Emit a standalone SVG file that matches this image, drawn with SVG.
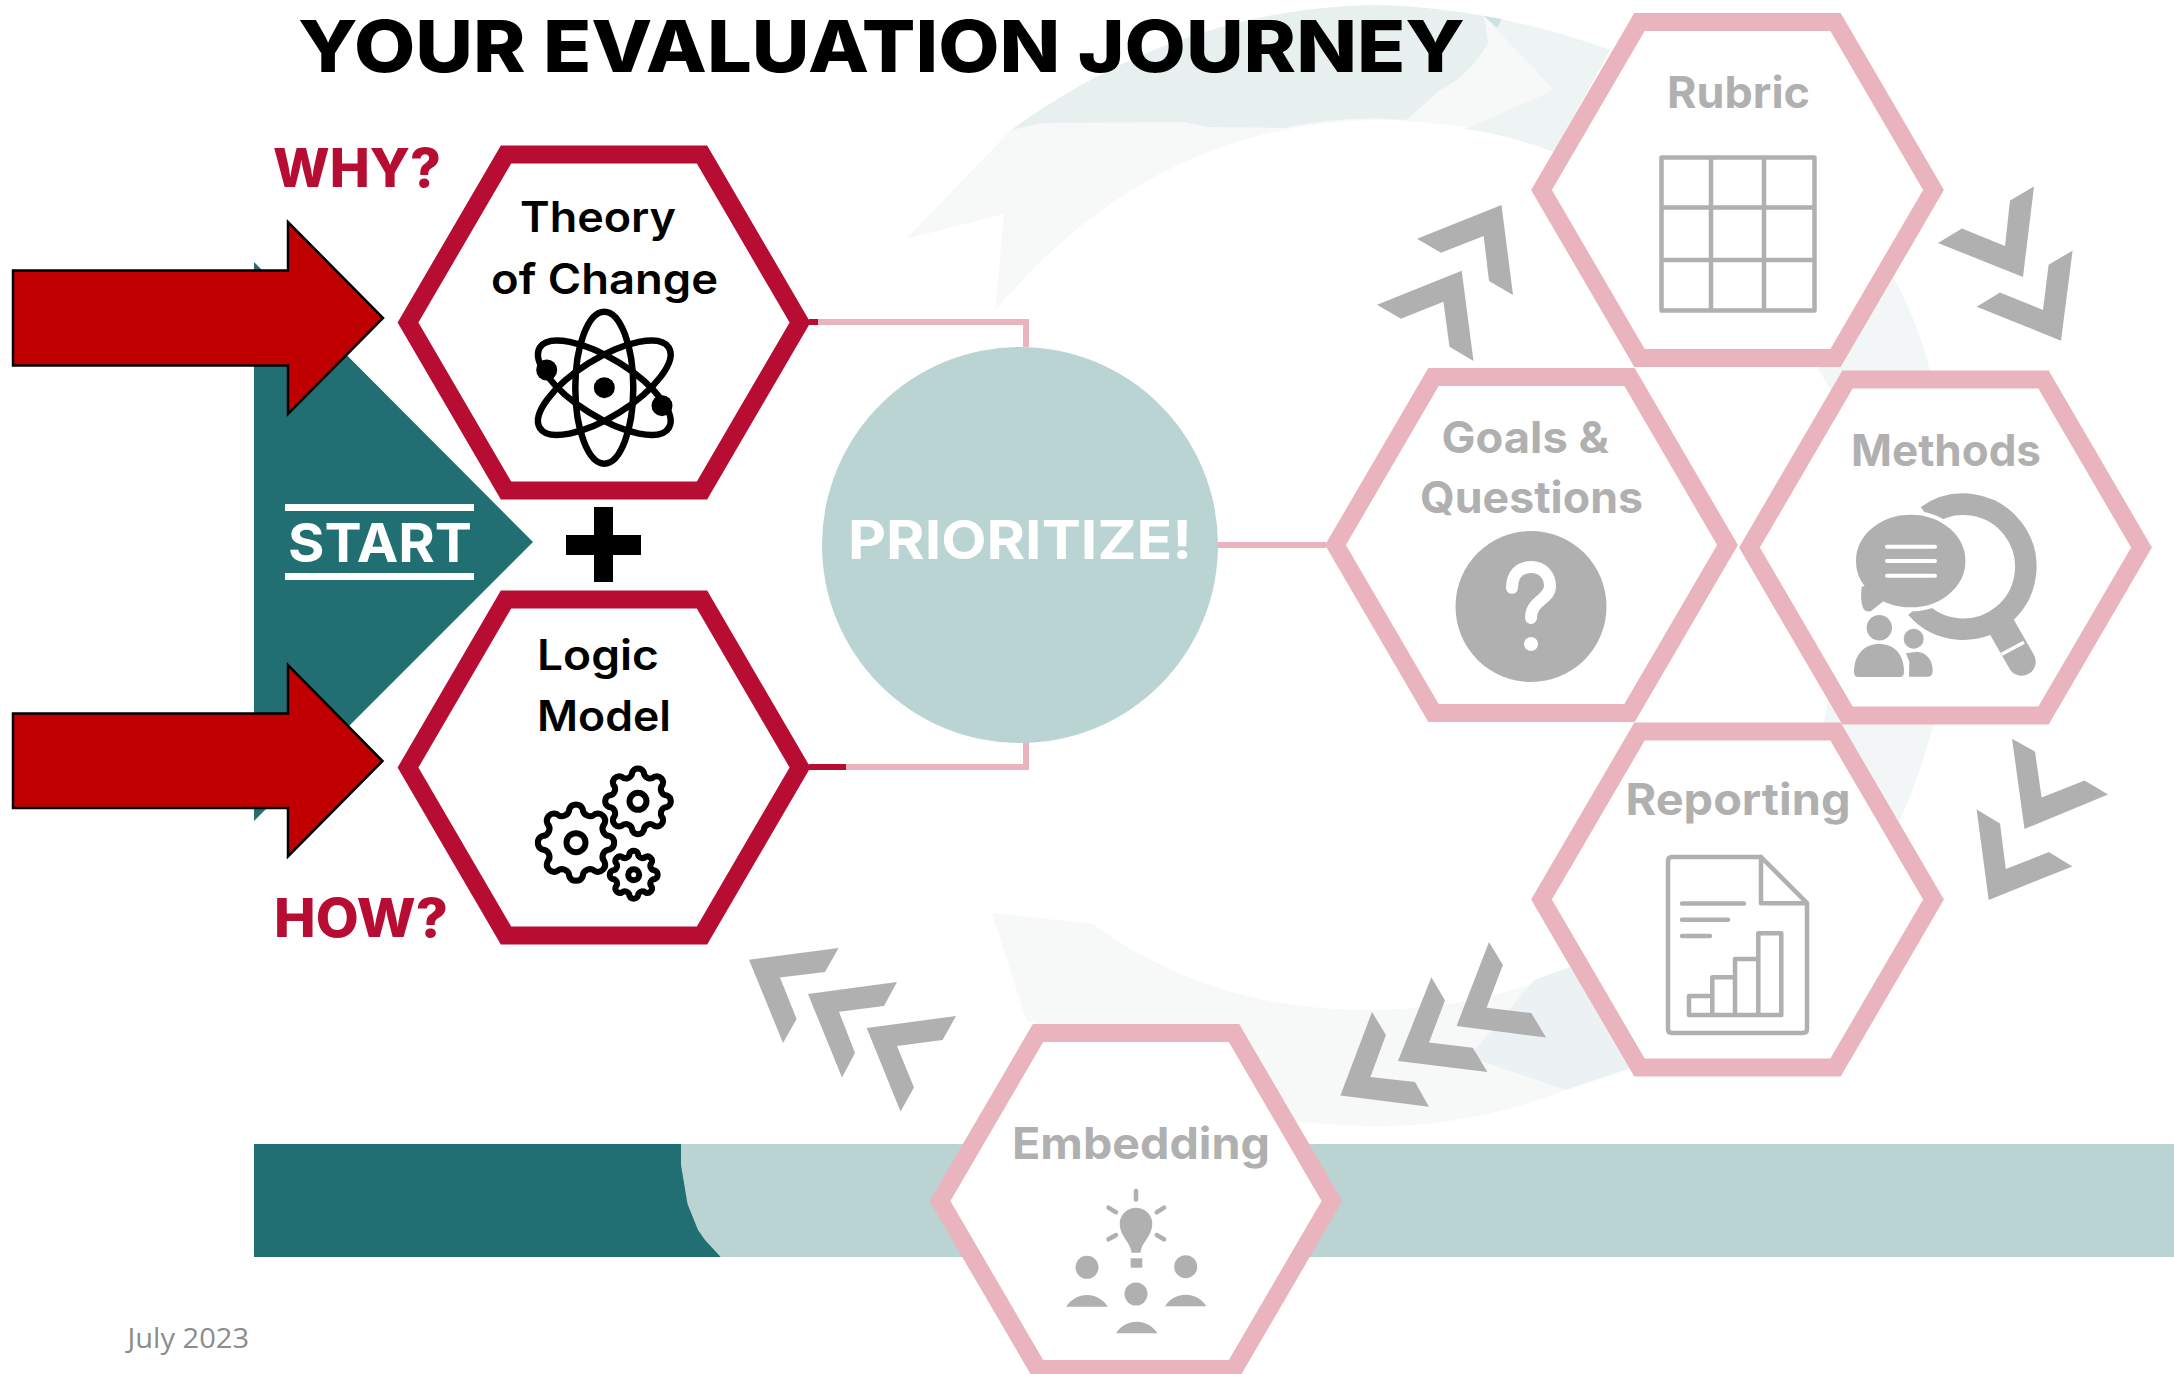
<svg xmlns="http://www.w3.org/2000/svg" xmlns:xlink="http://www.w3.org/1999/xlink" width="2174" height="1374" viewBox="0 0 2174 1374">
<style>
text{font-family:"Inter","Liberation Sans",sans-serif}
.hr{fill:#fff;stroke:#B80D33;stroke-width:18}
.hp{fill:#fff;stroke:#EAB4BE;stroke-width:18}
.tb{font-size:42px;font-weight:600;fill:#000}
.tg{font-size:44px;font-weight:700;fill:#B0B0B0}
.q{font-size:53px;font-weight:800;fill:#B80D33}
.chev{fill:#B0B0B0}
.ic{fill:#B0B0B0}
.il{fill:none;stroke:#B0B0B0;stroke-width:4.5;stroke-linecap:round;stroke-linejoin:round}
.wl{fill:none;stroke:#fff;stroke-linecap:round}
.gear{fill:#fff;stroke:#000;stroke-width:6;stroke-linejoin:round}
.conn{fill:none;stroke:#EAB4BE;stroke-width:6}
.bigarrow{fill:#C00000;stroke:#000;stroke-width:2.5}
</style>
<defs>
<polygon id="hex" points="-196,0 -98,-168 98,-168 196,0 98,168 -98,168"/>
<path id="g" vector-effect="non-scaling-stroke" d="M.785-.156A.17.17 0 0 1 .785.156A.17.17 0 0 0 .665.444A.17.17 0 0 1 .444.665A.17.17 0 0 0 .156.785A.17.17 0 0 1-.156.785A.17.17 0 0 0-.444.665A.17.17 0 0 1-.665.444A.17.17 0 0 0-.785.156A.17.17 0 0 1-.785-.156A.17.17 0 0 0-.665-.444A.17.17 0 0 1-.444-.665A.17.17 0 0 0-.156-.785A.17.17 0 0 1 .156-.785A.17.17 0 0 0 .444-.665A.17.17 0 0 1 .665-.444A.17.17 0 0 0 .785-.156Z"/>
</defs>
<rect width="2174" height="1374" fill="#fff"/>

<g id="background-swooshes">
<path fill="#F7F9F8" d="M906,239L1011,130Q1180,10 1375,5L1484,16L1610,50L1554,152Q1470,120 1375,120Q1150,125 995,311L1004,214Z"/>
<path fill="#E7F0EF" d="M1011,130Q1180,8 1375,5Q1430,6 1484,16L1488,43Q1470,75 1440,90L1406,120Q1345,115 1284,128L1207,127L1184,122L1044,123Z"/>
<path fill="#EEF4F4" d="M1484,16Q1550,28 1610,50L1554,152Q1510,135 1465,129L1554,90Z"/>
<path fill="#CFE2E2" d="M1484,16L1502,19L1497,28Z"/>
<path fill="#F3F6F7" d="M1880,255L1894,278Q1945,370 1955,540Q1955,700 1899,822L1824,722L1860,540L1838,403L1818,368L1850,320Z"/>
<path fill="#F7F9F8" d="M992,913L1093,924Q1210,1010 1367,1010Q1480,1010 1574,967L1631,1068L1566,1090Q1470,1128 1367,1126Q1330,1125 1290,1121L1026,1020Z"/>
<path fill="#ECF2F4" d="M1534,980L1570,967L1631,1068L1566,1090L1469,1057Z"/>
</g>

<g id="bar">
<rect x="681" y="1144" width="1493" height="113" fill="#BAD4D4"/>
<path fill="#216F72" d="M254,1144H681V1165L687.500,1204L698,1230L705,1240L720.700,1257H254Z"/>
</g>

<g id="start">
<polygon fill="#216F72" points="254,262 533,542 254,821"/>
<rect x="285" y="504" width="189" height="7" fill="#fff"/>
<rect x="285" y="573" width="189" height="7" fill="#fff"/>
<text x="288" y="561.500" font-size="53" font-weight="700" fill="#fff" textLength="184" lengthAdjust="spacingAndGlyphs">START</text>
</g>

<g id="plus"><path fill="#000" d="M594,507H613V535H641V555H613V582H594V555H566V535H594Z"/></g>

<g id="connectors">
<path class="conn" d="M810,322H1026V347"/>
<path class="conn" d="M846,767H1026V742"/>
<path class="conn" d="M1217,545H1326"/>
<path fill="none" stroke="#B80D33" stroke-width="6" d="M809,322H818M809,767H846"/>
<polygon class="bigarrow" points="13,270.500 288,270.500 288,222 383,318 288,414 288,365.500 13,365.500"/>
<polygon class="bigarrow" points="13,713.500 288,713.500 288,665 382.500,761 288,856.500 288,808 13,808"/>
<polygon class="chev" points="1501.500,205 1513,295 1489,281 1483.700,236 1441,252.700 1417,238.700"/>
<polygon class="chev" points="1461.700,270.700 1473.500,361 1449.500,346.700 1443.400,301.700 1401,318.700 1377,304.700"/>
<polygon class="chev" points="2034,186.400 2023,277 1938,243 1962,228.400 2005,245.900 2010,200.600"/>
<polygon class="chev" points="2072.600,250.600 2061,340.700 1976.700,306.700 2000,292.600 2043,310 2048.600,264.700"/>
<polygon class="chev" points="2012,738.700 2035,751.600 2041.600,797.600 2084.600,780.400 2108,794.600 2024.500,829"/>
<polygon class="chev" points="1976.600,809.600 2000,823.400 2005.800,869 2048.900,852 2072.400,866.400 1988.700,900"/>
<polygon class="chev" points="1489,942 1502.900,965 1486.600,1007.800 1531.300,1013 1546,1037.500 1456.600,1025.900"/>
<polygon class="chev" points="1431.400,977.300 1445,1000.500 1429,1042.600 1472.800,1047.800 1487.400,1071.900 1398,1061"/>
<polygon class="chev" points="1372,1012 1385.900,1035 1370.400,1077 1415,1082 1429,1106.700 1340.400,1095.500"/>
<polygon class="chev" points="838.600,947.900 825,972 780,977.400 796.600,1019 783,1042.900 749,959.800"/>
<polygon class="chev" points="897,982 884,1006 839,1011.700 855,1053 842,1077.600 808,994"/>
<polygon class="chev" points="956,1016 942.600,1040 897,1046 914,1087.500 900.500,1111.400 866.700,1028"/>
</g>

<g id="title"><text x="298" y="71.500" font-size="72" font-weight="800" fill="#000" textLength="1167" lengthAdjust="spacingAndGlyphs">YOUR EVALUATION JOURNEY</text></g>
<g id="why"><text class="q" x="273" y="186.500" textLength="168" lengthAdjust="spacingAndGlyphs">WHY?</text></g>
<g id="how"><text class="q" x="274" y="936.500" textLength="174" lengthAdjust="spacingAndGlyphs">HOW?</text></g>
<g id="date"><text x="127.500" y="1347.500" font-size="28" fill="#8C8C8C" style="font-family:'Open Sans','Liberation Sans',sans-serif" textLength="121.500" lengthAdjust="spacingAndGlyphs">July 2023</text></g>

<g id="prioritize">
<circle cx="1020" cy="545" r="198" fill="#BAD4D4"/>
<text x="848" y="559" font-size="53" font-weight="700" fill="#fff" textLength="344" lengthAdjust="spacingAndGlyphs">PRIORITIZE!</text>
</g>

<g id="theory-of-change">
<use href="#hex" class="hr" transform="translate(604,322.500)"/>
<text class="tb" x="520" y="232" textLength="156" lengthAdjust="spacingAndGlyphs">Theory</text>
<text class="tb" x="491" y="294" textLength="227" lengthAdjust="spacingAndGlyphs">of Change</text>
<g fill="none" stroke="#000" stroke-width="6.500">
<ellipse cx="604.300" cy="387.700" rx="29" ry="76"/>
<ellipse cx="604.300" cy="387.700" rx="29" ry="76" transform="rotate(58 604.300 387.700)"/>
<ellipse cx="604.300" cy="387.700" rx="29" ry="76" transform="rotate(-58 604.300 387.700)"/>
</g>
<circle cx="604.300" cy="387.700" r="10.500"/>
<circle cx="546.700" cy="370" r="10.500"/>
<circle cx="662" cy="405.700" r="10.500"/>
</g>

<g id="logic-model">
<use href="#hex" class="hr" transform="translate(604,767.500)"/>
<text class="tb" x="537" y="670" textLength="122" lengthAdjust="spacingAndGlyphs">Logic</text>
<text class="tb" x="537" y="731" textLength="134" lengthAdjust="spacingAndGlyphs">Model</text>
<use href="#g" class="gear" transform="translate(633.700,874.700) scale(27)"/>
<use href="#g" class="gear" transform="translate(638,801.300) scale(37)"/>
<use href="#g" class="gear" transform="translate(576,842.700) scale(43)"/>
<g fill="none" stroke="#000" stroke-width="6"><circle cx="576" cy="842.700" r="9.500"/><circle cx="638" cy="801.300" r="8.500"/><circle cx="633.700" cy="874.700" r="5.500"/></g>
</g>

<g id="rubric">
<use href="#hex" class="hp" transform="translate(1737.500,190)"/>
<text class="tg" x="1667" y="107.500" textLength="143" lengthAdjust="spacingAndGlyphs">Rubric</text>
<path class="il" stroke-linecap="butt" d="M1661.500,157.500H1814.500V310.500H1661.500ZM1711,157.500V310.500M1764,157.500V310.500M1661.500,207.500H1814.500M1661.500,260H1814.500"/>
</g>

<g id="goals-questions">
<use href="#hex" class="hp" transform="translate(1531.500,545)"/>
<text class="tg" x="1441.500" y="453" textLength="167.500" lengthAdjust="spacingAndGlyphs">Goals &amp;</text>
<text class="tg" x="1420" y="513" textLength="223" lengthAdjust="spacingAndGlyphs">Questions</text>
<circle class="ic" cx="1531" cy="606.500" r="75.500"/>
<path class="wl" stroke-width="12" d="M1512,588C1512,574 1520,567 1531,567C1544,567 1550,577 1550,586C1550,600 1531,600 1531,618"/>
<circle cx="1531" cy="644" r="7" fill="#fff"/>
</g>

<g id="methods">
<use href="#hex" class="hp" transform="translate(1945.500,547.500)"/>
<text class="tg" x="1851" y="466" textLength="190" lengthAdjust="spacingAndGlyphs">Methods</text>
<path d="M1927,515.800A62.500,62.500 0 1 1 1916.300,607.900" fill="none" stroke="#B0B0B0" stroke-width="21.500"/>
<path d="M2001.700,626.700L2021.700,661.700" fill="none" stroke="#B0B0B0" stroke-width="28" stroke-linecap="round"/>
<path d="M2001.700,654.300L2024,642.300" fill="none" stroke="#fff" stroke-width="3.500"/>
<ellipse cx="1910.700" cy="561" rx="56.700" ry="48.300" class="ic" stroke="#fff" stroke-width="4"/>
<path class="ic" d="M1861.700,586.700Q1860,600 1863,608Q1866,613 1871,611L1885,600L1870,585Z"/>
<path class="wl" stroke-width="4" d="M1887,546.700H1935M1887,561H1935M1887,575.700H1935"/>
<circle class="ic" cx="1879.300" cy="627.700" r="12.700"/>
<path class="ic" d="M1854,672C1854,654 1865,644 1879,644C1894,644 1904,654 1904,672Q1904,677 1900,677H1858Q1854,677 1854,672Z"/>
<circle class="ic" cx="1913.700" cy="638.700" r="10"/>
<path class="ic" d="M1906,653.300L1916.700,651.700C1926,652 1932.700,660 1932.700,670Q1932.700,676.700 1928,676.700H1909L1909.300,661.700Z"/>
</g>

<g id="reporting">
<use href="#hex" class="hp" transform="translate(1737.500,899.500)"/>
<text class="tg" x="1625.500" y="815" textLength="225" lengthAdjust="spacingAndGlyphs">Reporting</text>
<path class="il" d="M1761,857H1672Q1668,857 1668,861V1029Q1668,1033 1672,1033H1803Q1807,1033 1807,1029V903L1761,857V903.300H1807M1682,903.500H1744M1682,919.700H1728M1682,936H1710M1689,1015V996H1712.300V1015M1712.300,996V977.300H1735V1015M1735,977.300V959H1758.300V1015M1758.300,959V933.300H1781.300V1015H1689"/>
</g>

<g id="embedding">
<use href="#hex" class="hp" transform="translate(1136,1201)"/>
<text class="tg" x="1012" y="1159" textLength="258" lengthAdjust="spacingAndGlyphs">Embedding</text>
<path class="ic" d="M1131.500,1252.700C1131,1243 1119.700,1236 1119.700,1224A16.300,16.300 0 0 1 1152.300,1224C1152.300,1236 1141,1243 1140.500,1252.700Z"/>
<rect class="ic" x="1130.700" y="1258.300" width="11.600" height="9.400"/>
<path class="il" d="M1136,1191V1199.500M1108.500,1207.700L1116,1212.300M1164,1207.700L1156.700,1212.300M1108.500,1239.300L1116,1235M1164,1239.300L1156.700,1235"/>
<circle class="ic" cx="1087" cy="1267.300" r="11.500"/>
<circle class="ic" cx="1185.700" cy="1266.700" r="11.500"/>
<circle class="ic" cx="1136" cy="1294" r="11.500"/>
<path class="ic" d="M1066.300,1306.700A24.200,24.200 0 0 1 1107.700,1306.700Z"/>
<path class="ic" d="M1165,1306.300A24.200,24.200 0 0 1 1206.400,1306.300Z"/>
<path class="ic" d="M1116,1333.300A24.200,24.200 0 0 1 1157.400,1333.300Z"/>
</g>
</svg>
